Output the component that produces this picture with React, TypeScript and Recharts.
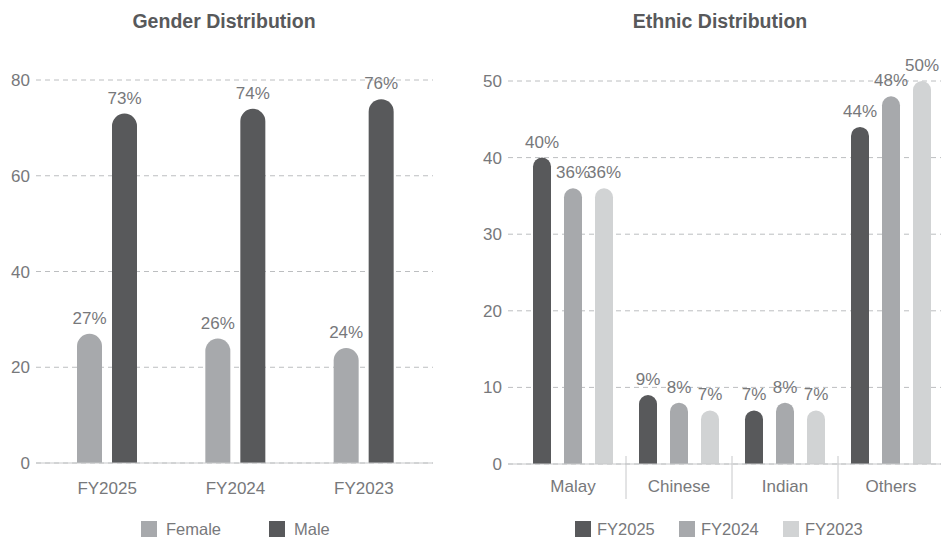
import React from 'react';
import { BarChart, Bar, XAxis, YAxis, CartesianGrid, LabelList } from 'recharts';

const genderCategories = ['FY2025', 'FY2024', 'FY2023'];
const femaleValues = [27, 26, 24];
const maleValues = [73, 74, 76];
const genderTicks = [0, 20, 40, 60, 80];

const ethnicCategories = ['Malay', 'Chinese', 'Indian', 'Others'];
const fy2025Values = [40, 9, 7, 44];
const fy2024Values = [36, 8, 8, 48];
const fy2023Values = [36, 7, 7, 50];
const ethnicTicks = [0, 10, 20, 30, 40, 50];

const DARK = '#58595b';
const MID = '#a7a9ac';
const LIGHT = '#d1d3d4';
const TEXT = '#77787b';
const AXIS = '#c7c8ca';
const FONT = '"Liberation Sans", Arial, Helvetica, sans-serif';

const genderData = genderCategories.map((name, i) => ({
  name,
  Female: femaleValues[i],
  Male: maleValues[i],
}));

const ethnicData = ethnicCategories.map((name, i) => ({
  name,
  FY2025: fy2025Values[i],
  FY2024: fy2024Values[i],
  FY2023: fy2023Values[i],
}));

const genderSeries = [
  { key: 'Female', color: MID },
  { key: 'Male', color: DARK },
];

const ethnicSeries = [
  { key: 'FY2025', color: DARK },
  { key: 'FY2024', color: MID },
  { key: 'FY2023', color: LIGHT },
];

const pct = (v: any) => `${v}%`;

const tickStyle = { fill: TEXT, fontSize: 17, fontFamily: FONT };
const labelStyle = { fill: TEXT, fontSize: 17, fontFamily: FONT };

// x tick with a thin divider on the left edge of every band but the first
const EthnicTick = (props: any) => {
  const { x, y, payload, index } = props;
  const half = payload && payload.offset ? payload.offset : 53;
  return (
    <g>
      <text x={x} y={y} dy="0.71em" textAnchor="middle" fill={TEXT} fontSize={17} fontFamily={FONT}>
        {payload.value}
      </text>
      {index > 0 && (
        <line x1={x - half} x2={x - half} y1={y - 24} y2={y + 19} stroke={AXIS} strokeWidth={1} />
      )}
    </g>
  );
};

function Title({ text, center }: { text: string; center: number }) {
  return (
    <div
      style={{
        position: 'absolute',
        left: center - 150,
        width: 300,
        top: 11,
        lineHeight: '20px',
        textAlign: 'center',
        fontFamily: FONT,
        fontWeight: 700,
        fontSize: 19.5,
        color: DARK,
      }}
    >
      {text}
    </div>
  );
}

function Legend({ items, left, step, gap }: { items: { key: string; color: string }[]; left: number; step: number; gap: number }) {
  return (
    <>
      {items.map((it, i) => (
        <div
          key={it.key}
          style={{
            position: 'absolute',
            left: left + i * step,
            top: 521,
            height: 16,
            display: 'flex',
            alignItems: 'center',
            fontFamily: FONT,
            fontSize: 16.5,
            color: TEXT,
            whiteSpace: 'nowrap',
          }}
        >
          <span style={{ display: 'inline-block', width: 16, height: 16, background: it.color, marginRight: gap }} />
          <span>{it.key}</span>
        </div>
      ))}
    </>
  );
}

export default function App() {
  return (
    <div
      style={{
        position: 'absolute',
        left: 0,
        top: 0,
        width: 941,
        height: 538,
        overflow: 'hidden',
        background: '#fff',
      }}
    >
      <Title text="Gender Distribution" center={224} />
      <Title text="Ethnic Distribution" center={720} />

      <div style={{ position: 'absolute', left: 0, top: 0 }}>
        <BarChart
          width={470}
          height={538}
          data={genderData}
          margin={{ top: 80, right: 37, bottom: 45, left: 0 }}
          barSize={25}
          barGap={10}
        >
          <CartesianGrid vertical={false} stroke="#bcbec0" strokeDasharray="5 4" />
          <XAxis
            dataKey="name"
            height={30}
            tickLine={false}
            tickSize={6}
            tickMargin={13}
            axisLine={{ stroke: AXIS }}
            tick={tickStyle}
            padding={{ left: 7, right: 5 }}
          />
          <YAxis
            width={36}
            domain={[0, 80]}
            ticks={genderTicks}
            axisLine={false}
            tickLine={false}
            tickSize={4}
            tickMargin={2}
            tick={tickStyle}
          />
          {genderSeries.map((s) => (
            <Bar key={s.key} dataKey={s.key} fill={s.color} radius={[12.5, 12.5, 0, 0]} isAnimationActive={false}>
              <LabelList dataKey={s.key} position="top" offset={10} formatter={pct} style={labelStyle} />
            </Bar>
          ))}
        </BarChart>
      </div>

      <div style={{ position: 'absolute', left: 470, top: 0 }}>
        <BarChart
          width={475}
          height={538}
          data={ethnicData}
          margin={{ top: 81, right: 0, bottom: 44, left: 0 }}
          barSize={18}
          barGap={13}
        >
          <CartesianGrid vertical={false} stroke="#bcbec0" strokeDasharray="5 4" />
          <XAxis
            dataKey="name"
            height={30}
            tickLine={false}
            tickSize={6}
            tickMargin={10}
            axisLine={{ stroke: AXIS }}
            tick={<EthnicTick />}
            interval={0}
            padding={{ left: 12, right: 1 }}
          />
          <YAxis
            width={38}
            domain={[0, 50]}
            ticks={ethnicTicks}
            axisLine={false}
            tickLine={false}
            tickSize={4}
            tickMargin={2}
            tick={tickStyle}
          />
          {ethnicSeries.map((s) => (
            <Bar key={s.key} dataKey={s.key} fill={s.color} radius={[9, 9, 0, 0]} isAnimationActive={false}>
              <LabelList dataKey={s.key} position="top" offset={10} formatter={pct} style={labelStyle} />
            </Bar>
          ))}
        </BarChart>
      </div>

      <Legend items={genderSeries} left={141} step={128} gap={9} />
      <Legend items={ethnicSeries} left={575} step={104} gap={6} />
    </div>
  );
}
